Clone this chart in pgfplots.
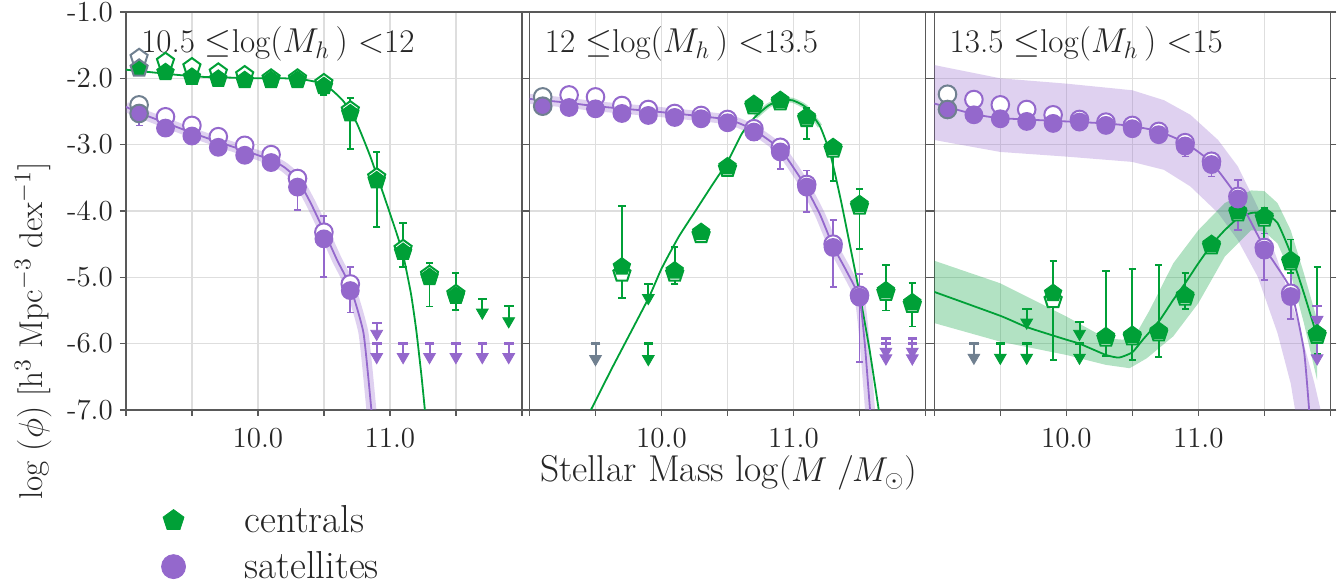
\documentclass[border=0pt]{standalone}
\usepackage{pgfplots}
\pgfplotsset{compat=1.18}
\usetikzlibrary{plotmarks}
\definecolor{cg}{RGB}{0,160,55}
\definecolor{cp}{RGB}{148,104,204}
\definecolor{cgr}{RGB}{112,128,144}
\tikzset{ttl/.style={anchor=base west, inner sep=0pt, font=\fontsize{16.5}{18}\selectfont, text=black!85, xshift=7.5pt, yshift=-20.5pt}}
\pgfplotsset{
 panel/.style={scale only axis, width=198pt, height=199pt,
  xmin=9, xmax=12, ymin=-7, ymax=-1,
  xtick={9,9.5,10,10.5,11,11.5,12}, xticklabels={,,10.0,,11.0,,},
  ytick={-7,-6,-5,-4,-3,-2,-1},
  grid=major, major grid style={draw=black!13, line width=0.6pt},
  axis line style={draw=black!65, line width=0.7pt},
  tick style={draw=black!65, line width=0.7pt},
  tick align=outside, major tick length=3pt,
  xtick pos=left, ytick pos=both,
  ticklabel style={font=\fontsize{14.5}{14.5}\selectfont, text=black!85},
  xticklabel style={yshift=-2.5pt},
 },
 fillP/.style={forget plot, only marks, mark=*, mark size=4.4pt, mark options={fill=cp, draw=cp, line width=0.6pt}},
 fillPg/.style={forget plot, only marks, mark=*, mark size=4.4pt, mark options={fill=cp, draw=cgr, line width=1pt}},
 openP/.style={forget plot, only marks, mark=*, mark size=4.4pt, mark options={fill=white, draw=cp, line width=1pt}},
 openPg/.style={forget plot, only marks, mark=*, mark size=4.4pt, mark options={fill=white, draw=cgr, line width=1pt}},
 fillG/.style={forget plot, only marks, mark=pentagon*, mark size=4.5pt, mark options={fill=cg, draw=cg, line width=0.6pt}},
 fillGg/.style={forget plot, only marks, mark=pentagon*, mark size=4.5pt, mark options={fill=cg, draw=cgr, line width=1pt}},
 openG/.style={forget plot, only marks, mark=pentagon*, mark size=4.5pt, mark options={fill=white, draw=cg, line width=1pt}},
 openGg/.style={forget plot, only marks, mark=pentagon*, mark size=4.5pt, mark options={fill=white, draw=cgr, line width=1pt}},
 err/.style={forget plot, draw=none, mark=none, error bars/.cd, y dir=both, y explicit,
   error bar style={draw=#1, line width=0.9pt}, error mark options={draw=#1, line width=0.9pt, mark size=1.8pt, rotate=90}},
 ul/.style={forget plot, only marks, mark=-, mark size=2.4pt, mark options={draw=#1, line width=1.2pt},
   error bars/.cd, y dir=minus, y explicit, error mark=none, error bar style={draw=#1, line width=1pt}},
 tri/.style={forget plot, only marks, mark=triangle*, mark size=3.4pt, mark options={fill=#1, draw=#1, rotate=180}},
 fit/.style={forget plot, draw=#1, line width=0.9pt, mark=none, smooth, tension=0.3},
 thin band/.style={forget plot, draw=#1, opacity=0.3, line width=5pt, mark=none, line join=round, smooth, tension=0.3},
 area band/.style={forget plot, fill=#1, fill opacity=0.3, draw=none, mark=none},
}
\begin{document}
\begin{tikzpicture}
\path[use as bounding box] (0,0) rectangle (672pt,293.5pt);
% ---------------- Panel 1 ----------------
\begin{axis}[panel, at={(62.95pt,88.5pt)}, anchor=south west,
  yticklabels={{-7.0},{-6.0},{-5.0},{-4.0},{-3.0},{-2.0},{-1.0}},
  legend style={at={(0.089,-0.229)}, anchor=north west, draw=none, fill=none, inner sep=0pt,
    font=\fontsize{19.5}{22}\selectfont, text=black!85, column sep=27.5pt, row sep=4pt},
  legend cell align=left]
\addlegendimage{legend image code/.code={\draw[only marks, mark=pentagon*, mark size=5.5pt, mark options={draw=cg, fill=cg}] plot coordinates {(0pt,0pt)};}}
\addlegendentry{centrals}
\addlegendimage{legend image code/.code={\draw[only marks, mark=*, mark size=6pt, mark options={draw=cp, fill=cp}] plot coordinates {(0pt,0pt)};}}
\addlegendentry{satellites}
\addplot[thin band=cp] coordinates {(9.0,-2.43) (9.1,-2.52) (9.3,-2.67) (9.5,-2.82) (9.7,-2.96) (9.9,-3.09) (10.1,-3.23) (10.2,-3.34) (10.3,-3.52) (10.4,-3.88) (10.5,-4.3) (10.6,-4.74) (10.7,-5.14) (10.8,-5.84) (10.86,-7.0) (10.88,-7.4)};
\addplot[fit=cg] coordinates {(9.0,-1.87) (9.2,-1.91) (9.4,-1.95) (9.6,-1.98) (9.8,-1.99) (10.0,-2.0) (10.2,-2.0) (10.35,-2.02) (10.45,-2.06) (10.55,-2.16) (10.65,-2.35) (10.75,-2.68) (10.85,-3.17) (10.95,-3.74) (11.05,-4.33) (11.1,-4.66) (11.16,-5.25) (11.2,-5.8) (11.24,-6.5) (11.27,-7.1)};
\addplot[fit=cp] coordinates {(9.0,-2.43) (9.1,-2.52) (9.3,-2.67) (9.5,-2.82) (9.7,-2.96) (9.9,-3.09) (10.1,-3.23) (10.2,-3.34) (10.3,-3.52) (10.4,-3.88) (10.5,-4.3) (10.6,-4.74) (10.7,-5.14) (10.8,-5.84) (10.86,-7.0) (10.88,-7.4)};
\addplot[err=cg] coordinates {(10.5,-2.13) += (0,0.06) -= (0,0.12) (10.7,-2.53) += (0,0.23) -= (0,0.53) (10.9,-3.54) += (0,0.43) -= (0,0.70) (11.1,-4.62) += (0,0.44) -= (0,0.23) (11.3,-5.00) += (0,0.22) -= (0,0.44) (11.5,-5.28) += (0,0.34) -= (0,0.21)};
\addplot[err=cp] coordinates {(9.1,-2.53) += (0,0.05) -= (0,0.18) (10.3,-3.64) += (0,0.09) -= (0,0.35) (10.5,-4.42) += (0,0.35) -= (0,0.58) (10.7,-5.20) += (0,0.35) -= (0,0.33)};
\addplot[ul=cg] coordinates {(11.7,-5.33) -= (0,0.20) (11.9,-5.43) -= (0,0.23)};
\addplot[tri=cg] coordinates {(11.7,-5.53) (11.9,-5.66)};
\addplot[ul=cp] coordinates {(10.9,-5.69) -= (0,0.16) (10.9,-6.0) -= (0,0.2) (11.1,-6.0) -= (0,0.2) (11.3,-6.0) -= (0,0.2) (11.5,-6.0) -= (0,0.2) (11.7,-6.0) -= (0,0.2) (11.9,-6.0) -= (0,0.2)};
\addplot[tri=cp] coordinates {(10.9,-5.85) (10.9,-6.2) (11.1,-6.2) (11.3,-6.2) (11.5,-6.2) (11.7,-6.2) (11.9,-6.2)};
\addplot[openGg] coordinates {(9.1,-1.69)};
\addplot[openG] coordinates {(9.3,-1.75) (9.5,-1.83) (9.7,-1.91) (9.9,-1.95) (10.1,-2.0) (10.3,-2.0) (10.5,-2.07) (10.7,-2.48) (10.9,-3.49) (11.1,-4.57) (11.3,-4.96) (11.5,-5.25)};
\addplot[fillGg] coordinates {(9.1,-1.85)};
\addplot[fillG] coordinates {(9.3,-1.91) (9.5,-1.98) (9.7,-2.01) (9.9,-2.03) (10.1,-2.03) (10.3,-2.03) (10.5,-2.12) (10.7,-2.53) (10.9,-3.54) (11.1,-4.62) (11.3,-5.0) (11.5,-5.28)};
\addplot[openPg] coordinates {(9.1,-2.40)};
\addplot[openP] coordinates {(9.3,-2.58) (9.5,-2.71) (9.7,-2.88) (9.9,-3.01) (10.1,-3.15) (10.3,-3.51) (10.5,-4.32) (10.7,-5.10)};
\addplot[fillPg] coordinates {(9.1,-2.53)};
\addplot[fillP] coordinates {(9.3,-2.75) (9.5,-2.87) (9.7,-3.04) (9.9,-3.16) (10.1,-3.27) (10.3,-3.64) (10.5,-4.42) (10.7,-5.20)};
\node[ttl] at (rel axis cs:0,1) {10.5 $\leq$log$(M_{h}\,)$ $<$12};
\end{axis}
% ---------------- Panel 2 ----------------
\begin{axis}[panel, at={(264.75pt,88.5pt)}, anchor=south west, yticklabels={,,,,,,}]
\addplot[thin band=cp] coordinates {(9.0,-2.31) (9.3,-2.37) (9.5,-2.42) (10.0,-2.51) (10.5,-2.62) (10.7,-2.78) (10.9,-3.07) (11.07,-3.56) (11.2,-4.05) (11.3,-4.53) (11.4,-4.9) (11.5,-5.31) (11.54,-6.0) (11.58,-7.0) (11.6,-7.4)};
\addplot[thin band=cg, line width=2.5pt] coordinates {(10.71,-2.58) (10.81,-2.41) (10.89,-2.34) (10.99,-2.33) (11.09,-2.43) (11.2,-2.72)};
\addplot[fit=cg] coordinates {(9.44,-7.1) (9.47,-6.98) (9.63,-6.35) (9.9,-5.32) (10.0,-4.87) (10.13,-4.39) (10.26,-3.99) (10.39,-3.59) (10.5,-3.26) (10.61,-2.83) (10.71,-2.58) (10.81,-2.41) (10.89,-2.34) (10.99,-2.33) (11.09,-2.43) (11.2,-2.72) (11.28,-3.15) (11.36,-3.85) (11.45,-4.74) (11.5,-5.24) (11.576,-6.09) (11.646,-7.0) (11.66,-7.2)};
\addplot[fit=cp] coordinates {(9.0,-2.31) (9.3,-2.37) (9.5,-2.42) (10.0,-2.51) (10.5,-2.62) (10.7,-2.78) (10.9,-3.07) (11.07,-3.56) (11.2,-4.05) (11.3,-4.53) (11.4,-4.9) (11.5,-5.31) (11.54,-6.0) (11.58,-7.0) (11.6,-7.4)};
\addplot[err=cp] coordinates {(10.7,-2.81) += (0,0.03) -= (0,0.12) (10.9,-3.11) += (0,0.05) -= (0,0.26) (11.1,-3.64) += (0,0.25) -= (0,0.38) (11.3,-4.55) += (0,0.41) -= (0,0.59) (11.5,-5.30) += (0,0.35) -= (0,0.98)};
\addplot[err=cg] coordinates {(9.7,-4.84) += (0,0.91) -= (0,0.47) (10.1,-4.90) += (0,0.36) -= (0,0.20) (11.1,-2.58) += (0,0.13) -= (0,0.33) (11.3,-3.04) += (0,0.09) -= (0,0.51) (11.5,-3.90) += (0,0.23) -= (0,0.67) (11.7,-5.20) += (0,0.39) -= (0,0.30) (11.9,-5.38) += (0,0.30) -= (0,0.36)};
\addplot[ul=cgr] coordinates {(9.5,-6.0) -= (0,0.23)};
\addplot[tri=cgr] coordinates {(9.5,-6.23)};
\addplot[ul=cg] coordinates {(9.9,-5.10) -= (0,0.21) (9.9,-6.0) -= (0,0.23)};
\addplot[tri=cg] coordinates {(9.9,-5.31) (9.9,-6.23)};
\addplot[ul=cp] coordinates {(11.7,-5.92) -= (0,0.2) (11.7,-6.0) -= (0,0.22) (11.9,-5.92) -= (0,0.2) (11.9,-6.0) -= (0,0.22)};
\addplot[tri=cp] coordinates {(11.7,-6.12) (11.7,-6.22) (11.9,-6.12) (11.9,-6.22)};
\addplot[openG] coordinates {(9.7,-4.94) (10.1,-4.94) (10.3,-4.36) (10.5,-3.36) (10.7,-2.42) (10.9,-2.36) (11.1,-2.61) (11.3,-3.07) (11.5,-3.93) (11.7,-5.23) (11.9,-5.41)};
\addplot[fillG] coordinates {(9.7,-4.84) (10.1,-4.90) (10.3,-4.32) (10.5,-3.33) (10.7,-2.39) (10.9,-2.33) (11.1,-2.58) (11.3,-3.04) (11.5,-3.90) (11.7,-5.20) (11.9,-5.38)};
\addplot[openPg] coordinates {(9.1,-2.28)};
\addplot[openP] coordinates {(9.3,-2.25) (9.5,-2.28) (9.7,-2.41) (9.9,-2.47) (10.1,-2.53) (10.3,-2.56) (10.5,-2.62) (10.7,-2.76) (10.9,-3.04) (11.1,-3.60) (11.3,-4.50) (11.5,-5.27)};
\addplot[fillPg] coordinates {(9.1,-2.42)};
\addplot[fillP] coordinates {(9.3,-2.44) (9.5,-2.46) (9.7,-2.53) (9.9,-2.56) (10.1,-2.59) (10.3,-2.61) (10.5,-2.67) (10.7,-2.81) (10.9,-3.11) (11.1,-3.64) (11.3,-4.55) (11.5,-5.30)};
\node[ttl] at (rel axis cs:0,1) {12 $\leq$log$(M_{h}\,)$ $<$13.5};
\end{axis}
% ---------------- Panel 3 ----------------
\begin{axis}[panel, at={(467.15pt,88.5pt)}, anchor=south west, yticklabels={,,,,,,}]
\addplot[area band=cp] coordinates {(9.0,-1.80) (9.5,-2.0) (10.0,-2.08) (10.5,-2.18) (10.74,-2.33) (10.94,-2.55) (11.15,-2.93) (11.3,-3.33) (11.45,-3.94) (11.6,-4.74) (11.75,-5.64) (11.88,-6.6) (11.95,-7.2) (11.75,-7.2) (11.7,-6.6) (11.6,-5.84) (11.45,-4.99) (11.3,-4.44) (11.15,-4.03) (10.94,-3.63) (10.74,-3.38) (10.5,-3.26) (10.0,-3.18) (9.5,-3.11) (9.0,-2.93)} -- cycle;
\addplot[area band=cg] coordinates {(9.0,-4.75) (9.5,-5.09) (10.0,-5.59) (10.3,-5.92) (10.43,-5.94) (10.53,-5.85) (10.63,-5.5) (10.81,-4.79) (11.0,-4.29) (11.2,-3.88) (11.4,-3.69) (11.5,-3.70) (11.6,-3.88) (11.7,-4.29) (11.8,-4.94) (11.9,-5.64) (11.9,-6.55) (11.8,-5.69) (11.7,-4.94) (11.6,-4.49) (11.5,-4.31) (11.4,-4.29) (11.2,-4.69) (11.0,-5.39) (10.81,-5.89) (10.61,-6.22) (10.48,-6.37) (10.3,-6.32) (10.0,-6.17) (9.5,-5.97) (9.0,-5.69)} -- cycle;
\addplot[fit=cg] coordinates {(9.0,-5.22) (9.5,-5.58) (9.7,-5.75) (10.0,-5.94) (10.1,-6.0) (10.3,-6.17) (10.4,-6.21) (10.5,-6.13) (10.58,-5.94) (10.71,-5.64) (10.81,-5.34) (10.9,-5.09) (11.0,-4.79) (11.1,-4.51) (11.2,-4.29) (11.3,-4.11) (11.4,-4.03) (11.5,-4.03) (11.6,-4.18) (11.7,-4.64) (11.8,-5.24) (11.9,-5.89)};
\addplot[fit=cp] coordinates {(9.0,-2.38) (9.3,-2.54) (9.5,-2.6) (10.0,-2.65) (10.3,-2.68) (10.5,-2.72) (10.7,-2.8) (10.9,-2.97) (11.1,-3.27) (11.3,-3.8) (11.5,-4.55) (11.7,-5.18) (11.8,-6.1) (11.84,-7.0) (11.86,-7.4)};
\addplot[err=cp] coordinates {(10.9,-3.01) += (0,0.03) -= (0,0.17) (11.1,-3.30) += (0,0.05) -= (0,0.18) (11.3,-3.82) += (0,0.29) -= (0,0.47) (11.5,-4.59) += (0,0.25) -= (0,0.45) (11.7,-5.29) += (0,0.35) -= (0,0.34)};
\addplot[err=cg] coordinates {(9.9,-5.24) += (0,0.49) -= (0,1.01) (10.3,-5.89) += (0,0.99) -= (0,0.30) (10.5,-5.87) += (0,1.0) -= (0,0.38) (10.7,-5.81) += (0,1.0) -= (0,0.39) (10.9,-5.27) += (0,0.33) -= (0,0.21) (11.5,-4.08) += (0,0.12) -= (0,0.38) (11.7,-4.74) += (0,0.31) -= (0,0.19) (11.9,-5.85) += (0,1.0) -= (0,0.31)};
\addplot[ul=cgr] coordinates {(9.3,-6.0) -= (0,0.21)};
\addplot[tri=cgr] coordinates {(9.3,-6.21)};
\addplot[ul=cg] coordinates {(9.5,-6.0) -= (0,0.21) (9.7,-5.48) -= (0,0.2) (9.7,-6.0) -= (0,0.21) (10.1,-5.67) -= (0,0.18) (10.1,-6.0) -= (0,0.21)};
\addplot[tri=cg] coordinates {(9.5,-6.21) (9.7,-5.68) (9.7,-6.21) (10.1,-5.85) (10.1,-6.21)};
\addplot[ul=cp] coordinates {(11.9,-5.43) -= (0,0.21) (11.9,-5.99) -= (0,0.23)};
\addplot[tri=cp] coordinates {(11.9,-5.64) (11.9,-6.22)};
\addplot[openG] coordinates {(9.9,-5.34) (10.3,-5.92) (10.5,-5.90) (10.7,-5.84) (10.9,-5.30) (11.1,-4.53) (11.3,-4.03) (11.5,-4.11) (11.7,-4.77) (11.9,-5.88)};
\addplot[fillG] coordinates {(9.9,-5.24) (10.3,-5.89) (10.5,-5.87) (10.7,-5.81) (10.9,-5.27) (11.1,-4.50) (11.3,-4.0) (11.5,-4.08) (11.7,-4.74) (11.9,-5.85)};
\addplot[openPg] coordinates {(9.1,-2.24)};
\addplot[openP] coordinates {(9.3,-2.32) (9.5,-2.40) (9.7,-2.47) (9.9,-2.55) (10.1,-2.62) (10.3,-2.66) (10.5,-2.71) (10.7,-2.80) (10.9,-2.97) (11.1,-3.25) (11.3,-3.78) (11.5,-4.55) (11.7,-5.24)};
\addplot[fillPg] coordinates {(9.1,-2.47)};
\addplot[fillP] coordinates {(9.3,-2.55) (9.5,-2.61) (9.7,-2.65) (9.9,-2.68) (10.1,-2.66) (10.3,-2.71) (10.5,-2.76) (10.7,-2.85) (10.9,-3.02) (11.1,-3.30) (11.3,-3.82) (11.5,-4.59) (11.7,-5.29)};
\node[ttl] at (rel axis cs:0,1) {13.5 $\leq$log$(M_{h}\,)$ $<$15};
\end{axis}
\node[anchor=base, inner sep=0pt, font=\fontsize{18.7}{22}\selectfont, text=black!85] at (364.2pt,52.5pt) {Stellar Mass log$(M\;/M_{\odot})$};
\node[anchor=base, rotate=90, inner sep=0pt, font=\fontsize{16.5}{20}\selectfont, text=black!85] at (21.5pt,128pt) {log $(\phi)$ [h$^{3}$ Mpc$^{-3}$ dex$^{-1}$]};
\end{tikzpicture}
\end{document}
